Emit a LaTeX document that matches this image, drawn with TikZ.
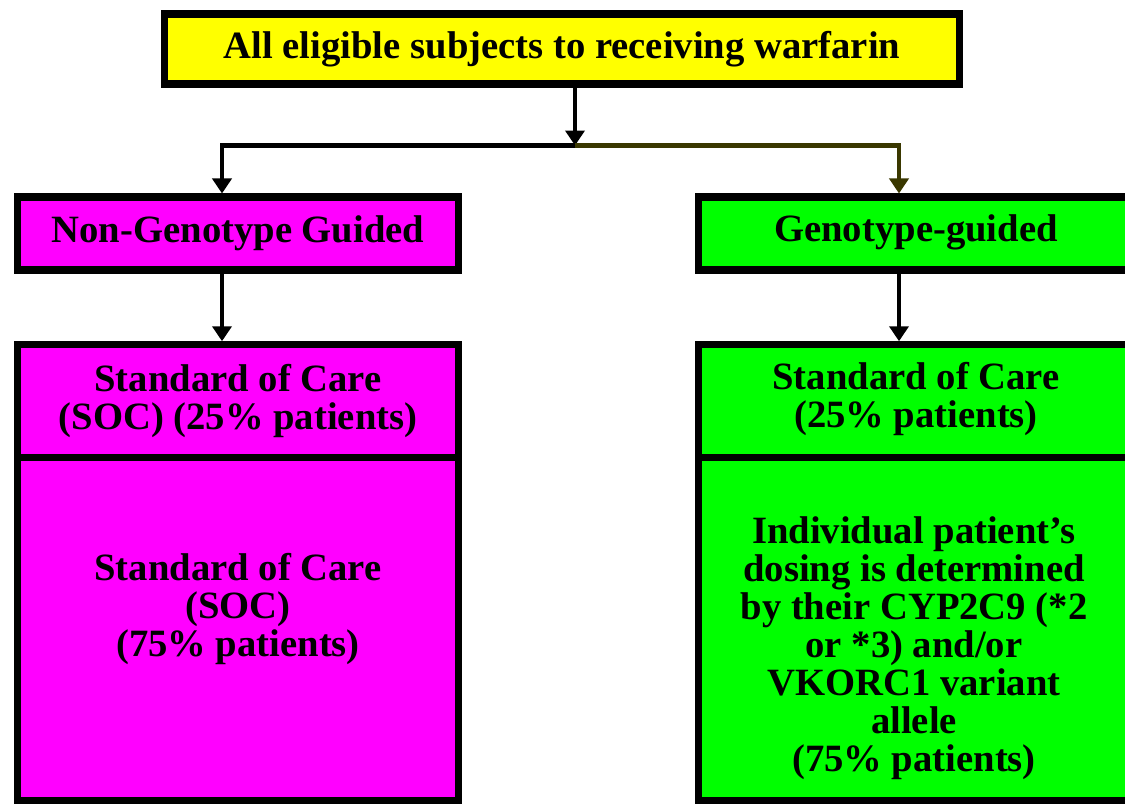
\documentclass[tikz,border=0pt]{standalone}
\usepackage{fontspec}
\setmainfont{Liberation Serif}
\usetikzlibrary{arrows.meta}
\definecolor{boxyellow}{RGB}{255,255,0}
\definecolor{boxmagenta}{RGB}{255,0,255}
\definecolor{boxgreen}{RGB}{0,255,0}
\definecolor{darkolive}{RGB}{58,56,0}
\tikzset{
  box/.style={draw,line width=4pt,rectangle,inner sep=0pt,align=center,
    font=\fontsize{22}{21.6}\selectfont\bfseries},
  conn/.style={line width=2.4pt,>={Triangle[width=0.38cm,length=0.3cm]}},
  txt/.style={align=center,inner sep=0pt,font=\fontsize{22}{21.6}\selectfont\bfseries}
}
\begin{document}
\begin{tikzpicture}[x=0.02cm,y=-0.02cm]
\useasboundingbox(0,0)rectangle(1125,804);
\node[box,fill=boxyellow,minimum width=15.9cm,minimum height=1.4cm](top)at(562,49){All eligible subjects to receiving warfarin};%上の箱
\node[box,fill=boxmagenta,minimum width=8.84cm,minimum height=1.46cm](nongeno)at(238,233.5){Non-Genotype Guided};%左
\node[box,fill=boxgreen,anchor=west,minimum width=10cm,minimum height=1.46cm](geno)at(695,233.5){};%右（右端は切れる）
\node[box,fill=boxmagenta,minimum width=8.84cm,minimum height=2.25cm](socA)at(238,401){Standard of Care\\(SOC) (25\% patients)};
\node[box,fill=boxmagenta,minimum width=8.84cm,minimum height=6.85cm](socB)at(238,629){};
\node[box,fill=boxgreen,anchor=west,minimum width=10cm,minimum height=2.25cm](socC)at(695,401){};
\node[box,fill=boxgreen,anchor=west,minimum width=10cm,minimum height=6.85cm](dose)at(695,629){};
\node[txt](genotext)at(916,232){Genotype-guided};
\node[txt](socCtext)at(916,399){Standard of Care\\(25\% patients)};
\node[txt](socBtext)at(238,609){Standard of Care\\(SOC)\\(75\% patients)};
\node[txt](dosetext)at(914,648){Individual patient’s\\dosing is determined\\by their CYP2C9 (*2\\or *3) and/or\\VKORC1 variant\\allele\\(75\% patients)};
\coordinate(split)at(575,145.5);%分岐点
\coordinate(lj)at(222,145.5);
\coordinate(rj)at(899,145.5);
\draw[conn,->](top.south -| split)--(split);
\draw[conn,->](split)--(lj)--(nongeno.north -| lj);
\draw[conn,->,draw=darkolive](split)--(rj)--(geno.north -| rj);
\draw[conn,->](nongeno.south -| lj)--(socA.north -| lj);
\draw[conn,->](geno.south -| rj)--(socC.north -| rj);
\end{tikzpicture}
\end{document}
